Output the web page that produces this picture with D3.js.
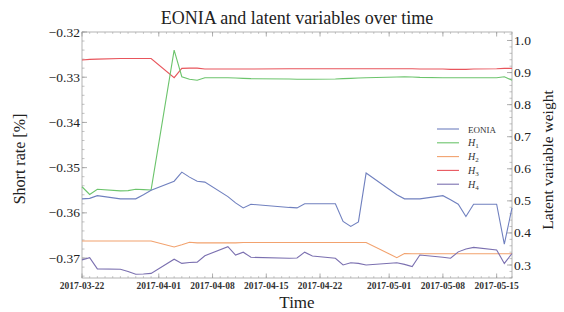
<!DOCTYPE html>
<html lang="en">
<head>
    <meta charset="UTF-8">
    <title>EONIA and latent variables over time</title>
    <script src="https://d3js.org/d3.v7.min.js"></script>
    <style>
        body { margin: 0; padding: 0; background: #ffffff; }
        svg { display: block; font-family: "Liberation Serif", "DejaVu Serif", serif; }
        .frame line, .frame path { stroke: #9a9a9a; }
        .ticklabel { font-size: 13.5px; fill: #222; }
        .xticklabel { font-size: 9.5px; fill: #333; font-weight: bold; }
    </style>
</head>
<body>
<div id="chart"></div>
<script>
    // business days shown in the chart
    const dates = ["2017-03-22", "2017-03-23", "2017-03-24", "2017-03-27", "2017-03-28", "2017-03-29", "2017-03-30", "2017-03-31",
        "2017-04-03", "2017-04-04", "2017-04-05", "2017-04-06", "2017-04-07", "2017-04-10", "2017-04-11", "2017-04-12", "2017-04-13",
        "2017-04-18", "2017-04-19", "2017-04-20", "2017-04-21", "2017-04-24", "2017-04-25", "2017-04-26", "2017-04-27", "2017-04-28",
        "2017-05-02", "2017-05-03", "2017-05-04", "2017-05-05", "2017-05-08", "2017-05-09", "2017-05-10", "2017-05-11", "2017-05-12",
        "2017-05-15", "2017-05-16", "2017-05-17"];

    // left axis (short rate, %)
    const eonia = [-0.3569, -0.3568, -0.3562, -0.3569, -0.3569, -0.3569, -0.3560, -0.3550,
        -0.3530, -0.3510, -0.3521, -0.3530, -0.3532, -0.3564, -0.3578, -0.3589, -0.3581,
        -0.3588, -0.3589, -0.3580, -0.3580, -0.3580, -0.3619, -0.3630, -0.3620, -0.3512,
        -0.3560, -0.3569, -0.3569, -0.3569, -0.3562, -0.3571, -0.3581, -0.3608, -0.3581,
        -0.3581, -0.3669, -0.3589];

    // right axis (latent variable weight)
    const h1 = [0.544, 0.520, 0.536, 0.531, 0.532, 0.536, 0.535, 0.534,
        0.970, 0.887, 0.879, 0.876, 0.884, 0.884, 0.883, 0.882, 0.881,
        0.880, 0.879, 0.879, 0.879, 0.880, 0.881, 0.882, 0.883, 0.884,
        0.886, 0.887, 0.886, 0.885, 0.884, 0.884, 0.884, 0.884, 0.884,
        0.884, 0.887, 0.876];
    const h2 = [0.375, 0.375, 0.375, 0.375, 0.375, 0.375, 0.375, 0.375,
        0.356, 0.363, 0.371, 0.369, 0.369, 0.369, 0.369, 0.370, 0.370,
        0.370, 0.370, 0.370, 0.370, 0.370, 0.370, 0.370, 0.370, 0.370,
        0.323, 0.336, 0.335, 0.335, 0.335, 0.335, 0.335, 0.335, 0.335,
        0.335, 0.335, 0.335];
    const h3 = [0.939, 0.941, 0.942, 0.944, 0.944, 0.944, 0.944, 0.944,
        0.884, 0.913, 0.914, 0.914, 0.911, 0.911, 0.911, 0.911, 0.911,
        0.912, 0.912, 0.912, 0.912, 0.912, 0.912, 0.912, 0.912, 0.912,
        0.912, 0.912, 0.912, 0.911, 0.911, 0.910, 0.910, 0.910, 0.911,
        0.912, 0.913, 0.913];
    const h4 = [0.316, 0.323, 0.288, 0.287, 0.280, 0.271, 0.272, 0.274,
        0.318, 0.305, 0.308, 0.309, 0.329, 0.357, 0.331, 0.340, 0.324,
        0.321, 0.322, 0.340, 0.328, 0.321, 0.300, 0.307, 0.305, 0.300,
        0.307, 0.302, 0.295, 0.331, 0.324, 0.321, 0.341, 0.350, 0.355,
        0.347, 0.305, 0.336];

    const leftTicks = [-0.37, -0.36, -0.35, -0.34, -0.33, -0.32];
    const rightTicks = [0.3, 0.4, 0.5, 0.6, 0.7, 0.8, 0.9, 1.0];
    const xTicks = ["2017-03-22", "2017-04-01", "2017-04-08", "2017-04-15", "2017-04-22", "2017-05-01", "2017-05-08", "2017-05-15"];

    const seriesNames = ["EONIA", "1", "2", "3", "4"];
    const seriesColors = ["#7080bf", "#6cc46c", "#f2a26e", "#e8555c", "#7b70b0"];

    const width = 564, height = 312;
    const margin = { top: 32, right: 52, bottom: 34, left: 82 };
    const parse = d3.utcParse("%Y-%m-%d");

    const svg = d3.select("#chart").append("svg")
        .attr("width", width)
        .attr("height", height);

    const x = d3.scaleUtc()
        .domain([parse("2017-03-22"), parse("2017-05-17")])
        .range([margin.left, width - margin.right]);
    const yL = d3.scaleLinear()
        .domain([-0.37441, -0.32])
        .range([height - margin.bottom, margin.top]);
    const yR = d3.scaleLinear()
        .domain([0.2595, 1.0265])
        .range([height - margin.bottom, margin.top]);

    const x0 = margin.left, x1 = width - margin.right;
    const yTop = margin.top, yBot = height - margin.bottom;

    // frame
    const frame = svg.append("g").attr("class", "frame");
    frame.append("rect")
        .attr("x", x0).attr("y", yTop)
        .attr("width", x1 - x0).attr("height", yBot - yTop)
        .attr("fill", "none").attr("stroke", "#a0a0a0").attr("stroke-width", 0.8);

    // left ticks + minor ticks
    const leftMinor = d3.range(-0.374, -0.3199, 0.002);
    frame.selectAll(".lmin").data(leftMinor).join("line")
        .attr("x1", x0).attr("x2", x0 + 2.5)
        .attr("y1", d => yL(d)).attr("y2", d => yL(d))
        .attr("stroke-width", 0.6);
    frame.selectAll(".lmaj").data(leftTicks).join("line")
        .attr("x1", x0).attr("x2", x0 + 5)
        .attr("y1", d => yL(d)).attr("y2", d => yL(d))
        .attr("stroke-width", 0.8);
    svg.selectAll(".ltl").data(leftTicks).join("text")
        .attr("class", "ticklabel")
        .attr("x", x0 - 2).attr("y", d => yL(d) + 4.5)
        .attr("text-anchor", "end")
        .text(d => d3.format(".2f")(d).replace("-", "\u2212"));

    // right ticks
    const rightMinor = d3.range(0.26, 1.03, 0.02);
    frame.selectAll(".rmin").data(rightMinor).join("line")
        .attr("x1", x1).attr("x2", x1 - 2.5)
        .attr("y1", d => yR(d)).attr("y2", d => yR(d))
        .attr("stroke-width", 0.6);
    frame.selectAll(".rmaj").data(rightTicks).join("line")
        .attr("x1", x1).attr("x2", x1 - 5)
        .attr("y1", d => yR(d)).attr("y2", d => yR(d))
        .attr("stroke-width", 0.8);
    svg.selectAll(".rtl").data(rightTicks).join("text")
        .attr("class", "ticklabel")
        .attr("x", x1 + 2).attr("y", d => yR(d) + 4.5)
        .text(d => d3.format(".1f")(d));

    // bottom / top ticks
    const dayTicks = d3.utcDay.range(parse("2017-03-22"), parse("2017-05-18"));
    frame.selectAll(".bmin").data(dayTicks).join("line")
        .attr("x1", d => x(d)).attr("x2", d => x(d))
        .attr("y1", yBot).attr("y2", yBot - 2)
        .attr("stroke-width", 0.5);
    frame.selectAll(".tmin").data(dayTicks).join("line")
        .attr("x1", d => x(d)).attr("x2", d => x(d))
        .attr("y1", yTop).attr("y2", yTop + 2)
        .attr("stroke-width", 0.5);
    frame.selectAll(".bmaj").data(xTicks).join("line")
        .attr("x1", d => x(parse(d))).attr("x2", d => x(parse(d)))
        .attr("y1", yBot).attr("y2", yBot - 4.5)
        .attr("stroke-width", 0.8);
    frame.selectAll(".tmaj").data(xTicks).join("line")
        .attr("x1", d => x(parse(d))).attr("x2", d => x(parse(d)))
        .attr("y1", yTop).attr("y2", yTop + 4.5)
        .attr("stroke-width", 0.8);
    svg.selectAll(".xtl").data(xTicks).join("text")
        .attr("class", "xticklabel")
        .attr("x", d => x(parse(d))).attr("y", yBot + 11)
        .attr("text-anchor", "middle")
        .text(d => d);

    // lines
    const pts = dates.map(parse);
    const lineL = d3.line().x((d, i) => x(pts[i])).y(d => yL(d));
    const lineR = d3.line().x((d, i) => x(pts[i])).y(d => yR(d));

    const plot = svg.append("g");
    [[h3, 3], [h1, 1], [h2, 2], [h4, 4]].forEach(([vals, k]) => {
        plot.append("path")
            .attr("d", lineR(vals))
            .attr("fill", "none")
            .attr("stroke", seriesColors[k])
            .attr("stroke-width", 1.1);
    });
    plot.append("path")
        .attr("d", lineL(eonia))
        .attr("fill", "none")
        .attr("stroke", seriesColors[0])
        .attr("stroke-width", 1.1);

    // legend
    const legend = svg.append("g");
    seriesNames.forEach((name, i) => {
        const ly = 129 + i * 13.8;
        legend.append("line")
            .attr("x1", 437).attr("x2", 459)
            .attr("y1", ly).attr("y2", ly)
            .attr("stroke", seriesColors[i]).attr("stroke-width", 1.1);
        const t = legend.append("text")
            .attr("x", 468).attr("y", ly + 3.5)
            .attr("font-size", 10)
            .attr("fill", "#333");
        if (i === 0) {
            t.attr("font-size", 9).text(name);
        } else {
            t.append("tspan").attr("font-style", "italic").text("H");
            t.append("tspan").attr("font-size", 7).attr("dy", 2).text(name);
        }
    });

    // title and axis labels
    svg.append("text")
        .attr("x", (x0 + x1) / 2).attr("y", 24)
        .attr("text-anchor", "middle")
        .attr("font-size", 18).attr("fill", "#222")
        .text("EONIA and latent variables over time");
    svg.append("text")
        .attr("transform", `translate(25,159) rotate(-90)`)
        .attr("text-anchor", "middle")
        .attr("font-size", 16).attr("fill", "#222")
        .text("Short rate [%]");
    svg.append("text")
        .attr("transform", `translate(553,160) rotate(-90)`)
        .attr("text-anchor", "middle")
        .attr("font-size", 15.5).attr("fill", "#222")
        .text("Latent variable weight");
    svg.append("text")
        .attr("x", (x0 + x1) / 2).attr("y", 308)
        .attr("text-anchor", "middle")
        .attr("font-size", 17).attr("fill", "#222")
        .text("Time");
</script>
</body>
</html>
